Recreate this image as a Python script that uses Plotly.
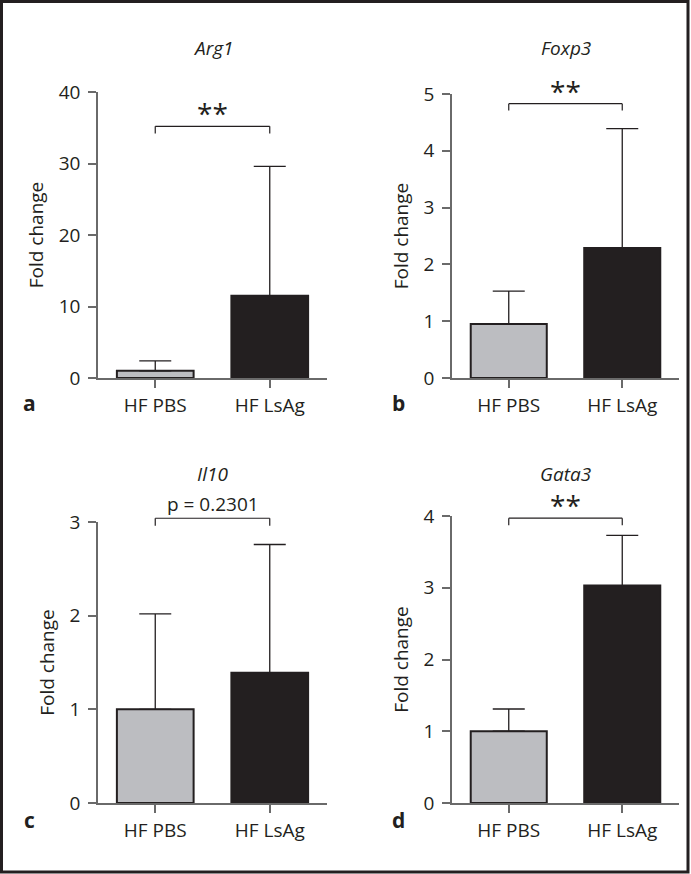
import plotly.graph_objects as go

W, H = 691, 874

categories = ["HF PBS", "HF LsAg"]
genes = ["Arg1", "Foxp3", "Il10", "Gata3"]
panel_letters = ["a", "b", "c", "d"]

arg1_mean = [1.0, 11.5]
arg1_err = [1.4, 18.1]
foxp3_mean = [0.95, 2.29]
foxp3_err = [0.58, 2.10]
il10_mean = [1.0, 1.39]
il10_err = [1.02, 1.37]
gata3_mean = [1.0, 3.03]
gata3_err = [0.31, 0.70]

y_max = [40, 5, 3, 4]
y_dtick = [10, 1, 1, 1]
sig_labels = ["**", "**", "p = 0.2301", "**"]
bracket_y = [35.2, 4.83, 3.04, 3.97]
bracket_drop = [34.2, 4.71, 2.96, 3.87]

means = [arg1_mean, foxp3_mean, il10_mean, gata3_mean]
errs = [arg1_err, foxp3_err, il10_err, gata3_err]

# panel boxes in pixels: (x0, x1, ytop, ybottom)
boxes = [(98, 327, 92, 378), (452, 679, 94, 378),
         (98, 327, 522, 803), (452, 679, 516, 803)]

FONT = "Open Sans"
TXT = "#231f20"
AX = "#6a6a6a"
FS = 19
bar_colors = ["#bcbdc1", "#231f20"]

fig = go.Figure()
annotations = []
shapes = []

for i in range(4):
    x0, x1, yt, yb = boxes[i]
    xd = [x0 / W, x1 / W]
    yd = [1 - yb / H, 1 - yt / H]
    sfx = "" if i == 0 else str(i + 1)
    xa, ya = "x" + sfx, "y" + sfx
    fig.add_trace(go.Bar(
        x=categories, y=means[i], xaxis=xa, yaxis=ya,
        marker=dict(color=bar_colors, line=dict(color=TXT, width=2)),
        width=0.67,
        error_y=dict(type="data", symmetric=False, array=errs[i],
                     arrayminus=[0, 0], color=TXT, thickness=1.3, width=16),
        showlegend=False, cliponaxis=False,
    ))
    axkey = "xaxis" + sfx
    aykey = "yaxis" + sfx
    fig.layout[axkey] = dict(
        domain=xd, range=[-0.5, 1.5], anchor=ya, showgrid=False, zeroline=False,
        showline=True, linecolor=AX, linewidth=1.5, ticks="outside",
        ticklen=8, tickwidth=1.5, tickcolor=AX, ticklabelstandoff=1,
        tickfont=dict(family=FONT, size=FS, color=TXT), fixedrange=True,
        automargin=False,
    )
    fig.layout[aykey] = dict(
        domain=yd, range=[0, y_max[i]], dtick=y_dtick[i], anchor=xa,
        showgrid=False, zeroline=False, showline=True, linecolor=AX,
        linewidth=1.5, ticks="outside", ticklen=8, tickwidth=1.5,
        tickcolor=AX, ticklabelstandoff=4,
        tickfont=dict(family=FONT, size=FS, color=TXT),
        title=dict(text="Fold change", font=dict(family=FONT, size=FS, color=TXT),
                   standoff=10),
        fixedrange=True, automargin=False,
    )

    def ypaper(v, i=i, yd=yd):
        return yd[0] + (yd[1] - yd[0]) * v / y_max[i]

    # bracket (x in axis-domain fraction: categories at 0.25 and 0.75)
    xr = xa + " domain"
    by = ypaper(bracket_y[i])
    bd = ypaper(bracket_drop[i])
    for (ax0, ay0, ax1, ay1) in [(0.25, by, 0.75, by), (0.25, by, 0.25, bd),
                                 (0.75, by, 0.75, bd)]:
        shapes.append(dict(type="line", xref=xr, yref="paper", x0=ax0, x1=ax1,
                           y0=ay0, y1=ay1, line=dict(color=TXT, width=1.2)))
    is_star = sig_labels[i] == "**"
    annotations.append(dict(
        xref=xr, yref="paper", x=0.5, y=by, text=sig_labels[i], showarrow=False,
        xanchor="center", yanchor="bottom", yshift=(-8 if is_star else -1),
        font=dict(family=FONT, size=(28 if is_star else FS), color=TXT),
    ))
    # gene title (italic)
    annotations.append(dict(
        xref="paper", yref="paper", x=(x0 + x1) / 2 / W,
        y=1 - (48 if i < 2 else 474) / H, text="<i>" + genes[i] + "</i>",
        showarrow=False, xanchor="center", yanchor="middle",
        font=dict(family=FONT, size=FS, color=TXT),
    ))
    # panel letter
    annotations.append(dict(
        xref="paper", yref="paper", x=(29 if i % 2 == 0 else 398) / W,
        y=1 - (403 if i < 2 else 820) / H, text="<b>" + panel_letters[i] + "</b>",
        showarrow=False, xanchor="center", yanchor="middle",
        font=dict(family=FONT, size=21, color=TXT),
    ))

# outer frame
shapes.append(dict(type="rect", xref="paper", yref="paper",
                   x0=1.5 / W, x1=1 - 3 / W, y0=2 / H, y1=1 - 1.5 / H,
                   line=dict(color="#231f20", width=3)))

fig.update_layout(
    width=W, height=H,
    margin=dict(l=0, r=0, t=0, b=0, pad=0, autoexpand=False),
    paper_bgcolor="white", plot_bgcolor="white",
    annotations=annotations, shapes=shapes, bargap=0.33,
    font=dict(family=FONT, color=TXT), showlegend=False,
)

fig.write_html("out.html", config={"displayModeBar": False},
               post_script="document.body.style.margin='0';document.body.style.overflow='hidden';")
